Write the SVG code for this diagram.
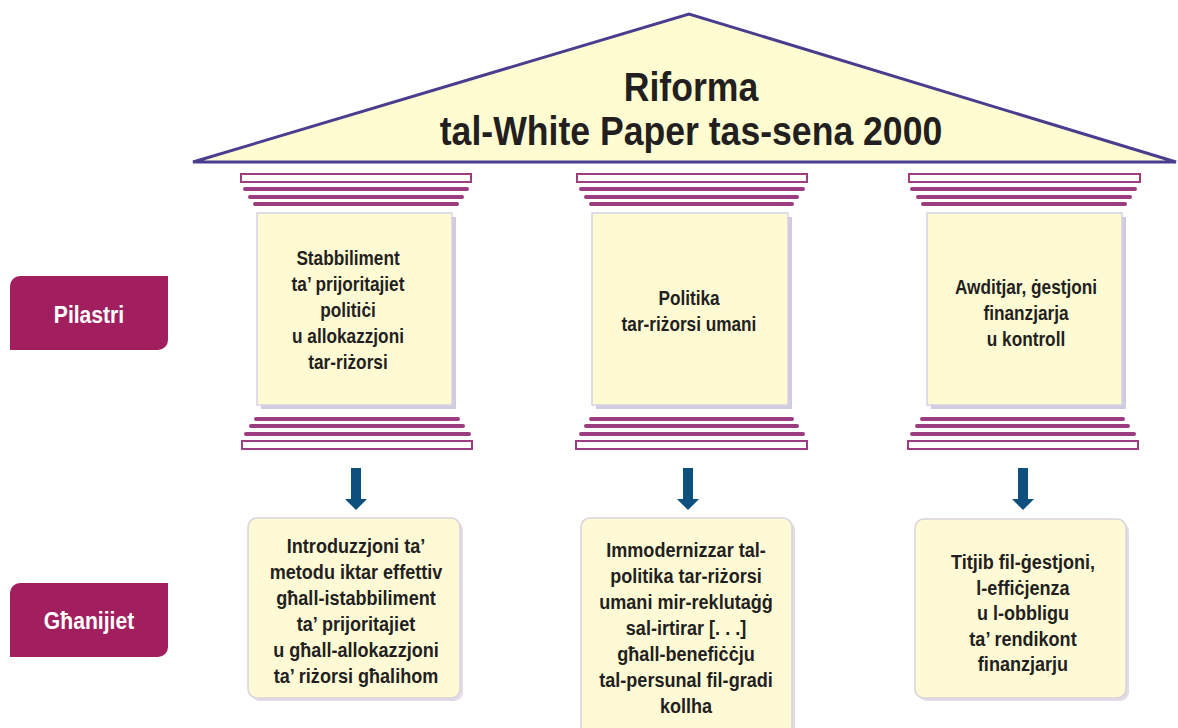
<svg xmlns="http://www.w3.org/2000/svg" width="1178" height="728" viewBox="0 0 1178 728">
<defs>
<style>
.t{font-family:"Liberation Sans",Arial,sans-serif;font-weight:bold;fill:#231f20;text-anchor:middle}
.ttl{font-size:40px}
.p{font-size:21px}
.lbl{font-family:"Liberation Sans",Arial,sans-serif;font-weight:bold;fill:#ffffff;text-anchor:middle;font-size:24px}
.bar{stroke:#9b3d80;stroke-width:4;stroke-linecap:round;fill:none}
.slab{fill:#ffffff;stroke:#9b3d80;stroke-width:2}
.shaft{fill:#fefad4;stroke:#d6d2e4;stroke-width:1.5}
.shadow{fill:#cfcbe0}
.goal{fill:#fefad6;stroke:#d9d3dc;stroke-width:1.5}
.goalsh{fill:#e4dbe8}
.lab{fill:#a11f5f}
.arr{fill:#0d4f7d}
</style>
</defs>
<rect width="1178" height="728" fill="#ffffff"/>

<g id="roof">
<polygon points="193,162 689,14 1176,162" fill="#fefcd0" stroke="#4a3d8f" stroke-width="3"/>
<g transform="translate(691,0) scale(0.89,1)">
<text class="t ttl" x="0" y="101">Riforma</text>
<text class="t ttl" x="0" y="145">tal-White Paper tas-sena 2000</text>
</g>
</g>

<g id="label-pilastri">
<path class="lab" d="M20,276 H168 V340 A10,10 0 0 1 158,350 H10 V286 A10,10 0 0 1 20,276 Z"/>
<g transform="translate(89,0) scale(0.88,1)"><text class="lbl" x="0" y="323">Pilastri</text></g>
</g>

<g id="label-ghanijiet">
<path class="lab" d="M20,583 H168 V647 A10,10 0 0 1 158,657 H10 V593 A10,10 0 0 1 20,583 Z"/>
<g transform="translate(89,0) scale(0.88,1)"><text class="lbl" x="0" y="629">Għanijiet</text></g>
</g>

<g id="pillar-1">
<rect class="slab" x="241" y="174" width="230" height="8"/>
<line class="bar" x1="245" y1="189" x2="467" y2="189"/>
<line class="bar" x1="250" y1="197" x2="462" y2="197"/>
<line class="bar" x1="255" y1="204" x2="457" y2="204"/>
<rect class="shadow" x="261" y="217" width="195" height="192"/>
<rect class="shaft" x="257" y="213" width="195" height="192"/>
<line class="bar" x1="256" y1="419" x2="458" y2="419"/>
<line class="bar" x1="251" y1="426" x2="463" y2="426"/>
<line class="bar" x1="246" y1="434" x2="469" y2="434"/>
<rect class="slab" x="242" y="441" width="230" height="8"/>
<g transform="translate(348,0) scale(0.82,1)">
<text class="t p" x="0" y="265">Stabbiliment</text>
<text class="t p" x="0" y="291">ta’ prijoritajiet</text>
<text class="t p" x="0" y="317">politiċi</text>
<text class="t p" x="0" y="343">u allokazzjoni</text>
<text class="t p" x="0" y="369">tar-riżorsi</text>
</g>
</g>

<g id="pillar-2">
<rect class="slab" x="577" y="174" width="230" height="8"/>
<line class="bar" x1="581" y1="189" x2="803" y2="189"/>
<line class="bar" x1="586" y1="197" x2="797" y2="197"/>
<line class="bar" x1="591" y1="204" x2="792" y2="204"/>
<rect class="shadow" x="596" y="217" width="196" height="192"/>
<rect class="shaft" x="592" y="213" width="196" height="192"/>
<line class="bar" x1="591" y1="419" x2="792" y2="419"/>
<line class="bar" x1="586" y1="426" x2="797" y2="426"/>
<line class="bar" x1="581" y1="434" x2="803" y2="434"/>
<rect class="slab" x="576" y="441" width="231" height="8"/>
<g transform="translate(689,0) scale(0.82,1)">
<text class="t p" x="0" y="305">Politika</text>
<text class="t p" x="0" y="331">tar-riżorsi umani</text>
</g>
</g>

<g id="pillar-3">
<rect class="slab" x="909" y="174" width="231" height="8"/>
<line class="bar" x1="912" y1="189" x2="1135" y2="189"/>
<line class="bar" x1="918" y1="197" x2="1130" y2="197"/>
<line class="bar" x1="923" y1="204" x2="1125" y2="204"/>
<rect class="shadow" x="931" y="217" width="195" height="192"/>
<rect class="shaft" x="927" y="213" width="195" height="192"/>
<line class="bar" x1="922" y1="419" x2="1123" y2="419"/>
<line class="bar" x1="917" y1="426" x2="1128" y2="426"/>
<line class="bar" x1="912" y1="434" x2="1134" y2="434"/>
<rect class="slab" x="908" y="441" width="230" height="8"/>
<g transform="translate(1026,0) scale(0.82,1)">
<text class="t p" x="0" y="294">Awditjar, ġestjoni</text>
<text class="t p" x="0" y="320">finanzjarja</text>
<text class="t p" x="0" y="346">u kontroll</text>
</g>
</g>

<g id="connectors">
<path class="arr" d="M351,468 H361 V499 H367 L356,510 L345,499 H351 Z"/>
<path class="arr" d="M683,468 H693 V499 H699 L688,510 L677,499 H683 Z"/>
<path class="arr" d="M1018,468 H1028 V499 H1034 L1023,510 L1012,499 H1018 Z"/>
</g>

<g id="goal-1">
<rect class="goalsh" x="251" y="521" width="212" height="180" rx="9"/>
<rect class="goal" x="248" y="518" width="212" height="180" rx="9"/>
<g transform="translate(356,0) scale(0.86,1)">
<text class="t p" x="0" y="553">Introduzzjoni ta’</text>
<text class="t p" x="0" y="579">metodu iktar effettiv</text>
<text class="t p" x="0" y="605">għall-istabbiliment</text>
<text class="t p" x="0" y="631">ta’ prijoritajiet</text>
<text class="t p" x="0" y="657">u għall-allokazzjoni</text>
<text class="t p" x="0" y="683">ta’ riżorsi għalihom</text>
</g>
</g>

<g id="goal-2">
<rect class="goalsh" x="584" y="521" width="211" height="230" rx="9"/>
<rect class="goal" x="581" y="518" width="211" height="230" rx="9"/>
<g transform="translate(686,0) scale(0.86,1)">
<text class="t p" x="0" y="557">Immodernizzar tal-</text>
<text class="t p" x="0" y="583">politika tar-riżorsi</text>
<text class="t p" x="0" y="609">umani mir-reklutaġġ</text>
<text class="t p" x="0" y="635">sal-irtirar [. . .]</text>
<text class="t p" x="0" y="661">għall-benefiċċju</text>
<text class="t p" x="0" y="687">tal-persunal fil-gradi</text>
<text class="t p" x="0" y="713">kollha</text>
</g>
</g>

<g id="goal-3">
<rect class="goalsh" x="918" y="522" width="211" height="179" rx="9"/>
<rect class="goal" x="915" y="519" width="211" height="179" rx="9"/>
<g transform="translate(1023,0) scale(0.86,1)">
<text class="t p" x="0" y="569">Titjib fil-ġestjoni,</text>
<text class="t p" x="0" y="595">l-effiċjenza</text>
<text class="t p" x="0" y="620">u l-obbligu</text>
<text class="t p" x="0" y="646">ta’ rendikont</text>
<text class="t p" x="0" y="671">finanzjarju</text>
</g>
</g>
</svg>
